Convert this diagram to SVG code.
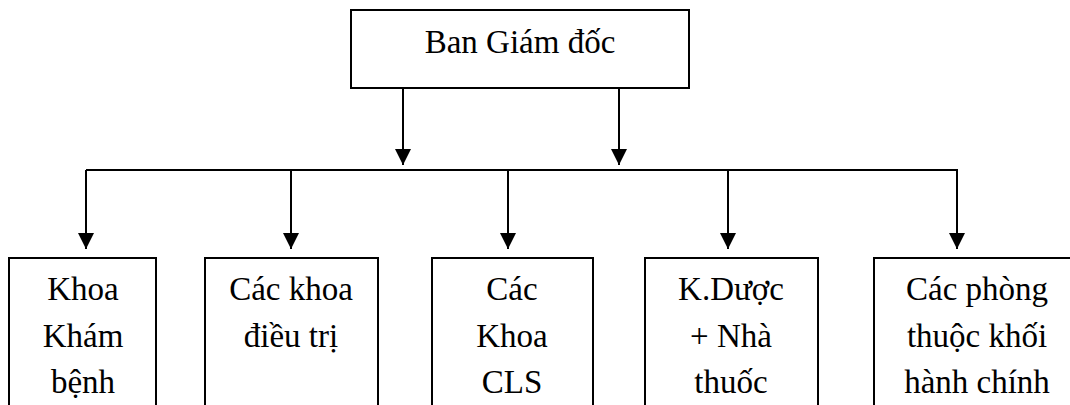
<svg xmlns="http://www.w3.org/2000/svg" width="1070" height="405" viewBox="0 0 1070 405">
<style>
.box{fill:#fff;stroke:#000;stroke-width:2}
.c{fill:none;stroke:#000;stroke-width:2}
</style>
<defs>
<marker id="ah" markerWidth="16" markerHeight="16" viewBox="0 0 16 16" refX="16" refY="8" orient="auto" markerUnits="userSpaceOnUse">
<path d="M0,0 L16,8 L0,16 Z" fill="#000"/>
</marker>
</defs>
<rect width="1070" height="405" fill="#fff"/>
<g id="connectors">
<line class="c" x1="403" y1="88" x2="403" y2="165" marker-end="url(#ah)"/>
<line class="c" x1="619" y1="88" x2="619" y2="165" marker-end="url(#ah)"/>
<line class="c" x1="86" y1="170" x2="958" y2="170"/>
<line class="c" x1="86" y1="170" x2="86" y2="249" marker-end="url(#ah)"/>
<line class="c" x1="291" y1="170" x2="291" y2="249" marker-end="url(#ah)"/>
<line class="c" x1="508" y1="170" x2="508" y2="249" marker-end="url(#ah)"/>
<line class="c" x1="728" y1="170" x2="728" y2="249" marker-end="url(#ah)"/>
<line class="c" x1="957" y1="170" x2="957" y2="249" marker-end="url(#ah)"/>
</g>
<g font-family="Liberation Serif" font-size="33" text-anchor="middle" fill="#000">
<g id="ban-giam-doc">
<rect class="box" x="351" y="10" width="338" height="78"/>
<text x="520" y="53">Ban Giám đốc</text>
</g>
<g id="khoa-kham-benh">
<rect class="box" x="9" y="258" width="147" height="170"/>
<text x="83" y="300">Khoa</text>
<text x="83" y="347">Khám</text>
<text x="83" y="393">bệnh</text>
</g>
<g id="cac-khoa-dieu-tri">
<rect class="box" x="205" y="258" width="173" height="170"/>
<text x="291" y="300">Các khoa</text>
<text x="291" y="347">điều trị</text>
</g>
<g id="cac-khoa-cls">
<rect class="box" x="432" y="258" width="161" height="170"/>
<text x="512" y="300">Các</text>
<text x="512" y="347">Khoa</text>
<text x="512" y="393">CLS</text>
</g>
<g id="k-duoc">
<rect class="box" x="645" y="258" width="173" height="170"/>
<text x="731" y="300">K.Dược</text>
<text x="731" y="347">+ Nhà</text>
<text x="731" y="393">thuốc</text>
</g>
<g id="cac-phong">
<rect class="box" x="874" y="258" width="206" height="170"/>
<text x="977" y="300">Các phòng</text>
<text x="977" y="347">thuộc khối</text>
<text x="977" y="393">hành chính</text>
</g>
</g>
</svg>
